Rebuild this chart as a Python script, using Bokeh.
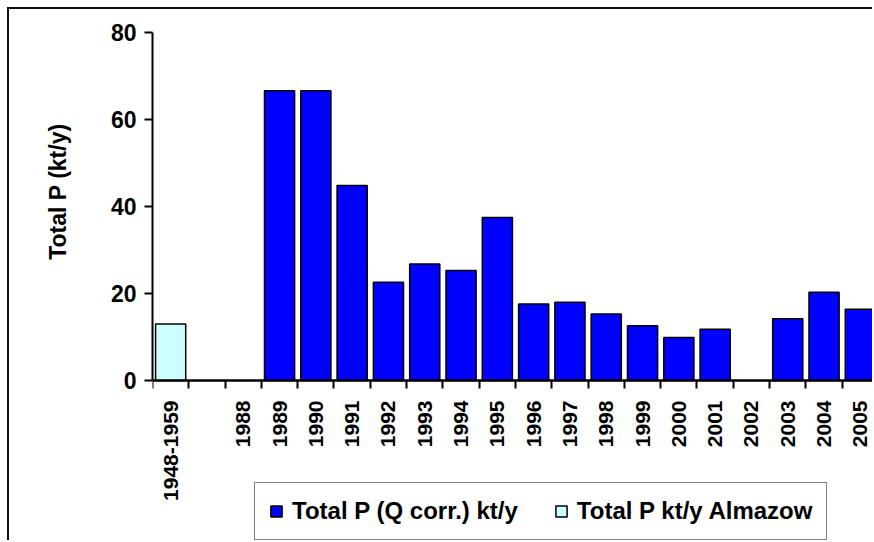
import math
from bokeh.plotting import figure
from bokeh.models import (Range1d, FixedTicker, Legend, LegendItem, ColumnDataSource, Title)
from bokeh.embed import file_html
from bokeh.resources import INLINE

# ---- data ----
categories = ["1948-1959", "", "1988", "1989", "1990", "1991", "1992", "1993",
              "1994", "1995", "1996", "1997", "1998", "1999", "2000", "2001",
              "2002", "2003", "2004", "2005"]
total_p_qcorr = [None, None, None, 66.6, 66.6, 44.8, 22.6, 26.8, 25.3, 37.5,
                 17.6, 18.0, 15.3, 12.6, 9.9, 11.8, None, 14.2, 20.3, 16.4]
total_p_almazow = [13.0, None, None, None, None, None, None, None, None, None,
                   None, None, None, None, None, None, None, None, None, None]
y_ticks = [0, 20, 40, 60, 80]

FONT = "'Liberation Sans', Arial, sans-serif"

nan = float("nan")
xs = [i + 0.5 for i in range(len(categories))]
src_q = ColumnDataSource(dict(x=xs, top=[nan if v is None else v for v in total_p_qcorr]))
src_a = ColumnDataSource(dict(x=xs, top=[nan if v is None else v for v in total_p_almazow]))

p = figure(width=865, height=533, output_backend="svg", toolbar_location=None,
           x_range=Range1d(0, 19.89), y_range=Range1d(-37.24, 80),
           min_border_left=142, min_border_top=23, min_border_bottom=0,
           min_border_right=0)
p.styles = {"margin-left": "7px", "margin-top": "7px",
            "border-left": "2px solid #111", "border-top": "2px solid #111"}
p.outline_line_color = None
p.xgrid.visible = False
p.ygrid.visible = False
p.background_fill_color = "white"
p.border_fill_color = "white"

rq = p.vbar(x="x", top="top", width=0.83, bottom=0, source=src_q,
            fill_color="#0000FF", line_color="black", line_width=1.5)
ra = p.vbar(x="x", top="top", width=0.83, bottom=0, source=src_a,
            fill_color="#CCFFFF", line_color="black", line_width=1.5)

# x axis: drawn at y = 0; labels at category centres, ticks at boundaries
xa = p.xaxis[0]
xa.fixed_location = 0
xa.ticker = FixedTicker(ticks=xs, minor_ticks=list(range(len(categories) + 1)))
xa.major_label_overrides = {x: c for x, c in zip(xs, categories)}
xa.major_label_orientation = math.pi / 2
xa.major_tick_line_color = None
xa.major_tick_out = 8
xa.major_tick_in = 0
xa.minor_tick_line_color = "black"
xa.minor_tick_line_width = 2
xa.minor_tick_out = 8
xa.minor_tick_in = 0
xa.major_label_standoff = 12
xa.axis_line_width = 2.5
xa.axis_line_color = "black"
xa.major_label_text_font = FONT
xa.major_label_text_font_style = "bold"
xa.major_label_text_font_size = "21px"
xa.major_label_text_color = "black"

ya = p.yaxis[0]
ya.bounds = (0, 80)
ya.ticker = FixedTicker(ticks=y_ticks, minor_ticks=[])
ya.major_tick_out = 8
ya.major_tick_in = 0
ya.major_tick_line_width = 2
ya.axis_line_width = 2
ya.axis_line_color = "black"
ya.major_label_standoff = 8
ya.major_label_text_font = FONT
ya.major_label_text_font_style = "bold"
ya.major_label_text_font_size = "23px"
ya.major_label_text_color = "black"

ytitle = Title(text="Total P (kt/y)", align="right", offset=91,
               vertical_align="top", standoff=70,
               text_font=FONT, text_font_style="bold", text_font_size="23px",
               text_color="black")
p.add_layout(ytitle, "left")

legend = Legend(items=[LegendItem(label="Total P (Q corr.) kt/y", renderers=[rq]),
                       LegendItem(label="Total P kt/y Almazow", renderers=[ra])],
                orientation="horizontal", location=(102, 2))
legend.label_text_font = FONT
legend.label_text_font_style = "bold"
legend.label_text_font_size = "24px"
legend.label_text_color = "black"
legend.glyph_width = 14
legend.glyph_height = 14
legend.label_standoff = 9
legend.spacing = 36
legend.padding = 14
legend.margin = 0
legend.border_line_color = "black"
legend.border_line_width = 1
legend.background_fill_color = "white"
legend.background_fill_alpha = 1
p.add_layout(legend, "center")

open("out.html", "w").write(file_html(p, INLINE))
